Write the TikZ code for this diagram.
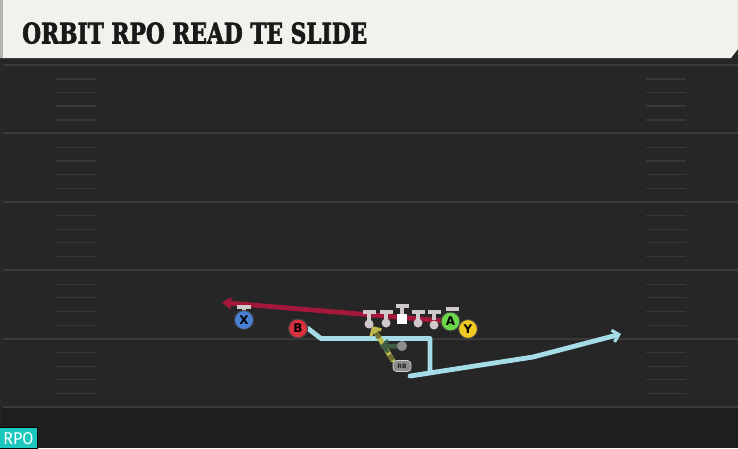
\documentclass[tikz,border=0pt]{standalone}
\usepackage{fontspec}
\newfontfamily\titlefont[FakeBold=2.5]{DejaVu Serif}
\newfontfamily\markfont{DejaVu Sans}
\newfontfamily\tagfont{Fira Sans}
\usetikzlibrary{arrows.meta, positioning, calc}
\usepackage{xcolor}

\definecolor{fieldgray}{HTML}{262626}
\definecolor{fieldlow}{HTML}{1E1E1E}
\definecolor{yardline}{HTML}{3A3A3A}
\definecolor{hashgray}{HTML}{383838}
\definecolor{bannercream}{HTML}{F3F1EB}
\definecolor{routecyan}{HTML}{A6DCE8}
\definecolor{readred}{HTML}{A3173A}
\definecolor{meshyellow}{HTML}{BDB84E}
\definecolor{meshdark}{HTML}{6F6E34}
\definecolor{qbgreen}{HTML}{3E5B43}
\definecolor{xblue}{HTML}{4A7FD6}
\definecolor{bred}{HTML}{D9323E}
\definecolor{agreen}{HTML}{6CD64A}
\definecolor{yyellow}{HTML}{F0C823}
\definecolor{olgray}{HTML}{D0C8CB}
\definecolor{rpoteal}{HTML}{1CC8BE}

\pgfdeclarelayer{field}
\pgfdeclarelayer{routes}
\pgfsetlayers{field,routes,main}

\begin{document}
\begin{tikzpicture}[x=1pt, y=-1pt,
    player/.style={circle, draw=black!75, line width=1pt, minimum size=19pt, inner sep=0pt,
        font=\markfont\bfseries\fontsize{12}{12}\selectfont},
    lineman/.style={circle, fill=olgray, minimum size=9pt, inner sep=0pt},
    blockbar/.style={fill=olgray},
    route/.style={line width=4.8pt, line cap=round, line join=round},
    chevron/.style={-{Straight Barb[length=6pt, width=12pt, line width=3.2pt]}}]

    \useasboundingbox (0,0) rectangle (738,448);

    \begin{pgfonlayer}{field}
    % field and banner
    \fill[fieldgray] (0,0) rectangle (738,448);
    \fill[fieldlow] (0,407) rectangle (738,448);
    \fill[black!85] (0,57) rectangle (738,63);
    \draw[line width=1pt, black!75!white!20!fieldgray] (1.5,63) -- (1.5,448);
    \foreach \yl in {65,133.4,201.8,270.2,338.6,407} {
        \draw[line width=2pt, yardline] (3,\yl) -- (738,\yl);
    }
    \foreach \yl in {65,133.4,201.8,270.2,338.6} {
        \foreach \dy in {14,27.5,41,55} {
            \draw[line width=1.2pt, hashgray] (56,\yl+\dy) -- (96,\yl+\dy);
            \draw[line width=1.2pt, hashgray] (646,\yl+\dy) -- (686,\yl+\dy);
        }
    }
    \fill[bannercream] (0,0) -- (738,0) -- (738,49) -- (731,58) -- (0,58) -- cycle;
    \fill[black!30] (0,0) rectangle (3,58);
    \end{pgfonlayer}

    \node[anchor=south west, inner sep=0pt, text=black!90] (title) at (22,44)
        {\resizebox{345pt}{21pt}{\titlefont\bfseries ORBIT RPO READ TE SLIDE}};

    % offensive line
    \foreach \xo/\yo in {369/324, 386/323, 418/323, 434/325} {
        \fill[blockbar] (\xo-6.5,309.5) rectangle (\xo+6.5,314);
        \fill[blockbar] (\xo-2,314) rectangle (\xo+2,320);
        \node[lineman] at (\xo,\yo) {};
    }
    \fill[blockbar] (395.5,303.5) rectangle (408.5,308);
    \fill[blockbar] (400,308) rectangle (404,314);
    \node[fill=white, minimum size=10pt, inner sep=0pt] (center) at (402,318.5) {};

    % skill players
    \fill[blockbar] (237,304.5) rectangle (251,308.5);
    \fill[blockbar] (242,308.5) rectangle (246,312);
    \node[player, fill=xblue] (X) at (244,320) {X};
    \node[player, fill=bred] (B) at (298,328.5) {B};
    \fill[blockbar] (445.5,307) rectangle (458.5,311);
    \node[player, fill=agreen] (A) at (450.5,321.5) {A};
    \node[player, fill=yyellow] (Y) at (468,329) {Y};
    \node[circle, fill=black!45, minimum size=10pt, inner sep=0pt] (QB) at (402,346) {};
    \node[rounded corners=3.5pt, fill=black!45, draw=black!20, line width=0.7pt,
        minimum width=18pt, minimum height=11pt, inner sep=0pt,
        font=\markfont\bfseries\fontsize{6}{6}\selectfont, text=black!85] (RB) at (402,366) {RB};

    \coordinate (readtip) at (222,302.5);
    \coordinate (meshtip) at (372,326);
    \coordinate (qbtip) at (380,346.5);
    \coordinate (orbitend) at (621,334);

    \begin{pgfonlayer}{routes}
    \draw[route, readred, -{Triangle[length=9pt, width=12pt]}] (A.center) -- (readtip);
    \draw[route, routecyan, chevron] (B.east) -- (321,338.5) -- (430,338.5) -- (430,373)
        -- (410,376) -- (533,357) -- (orbitend);
    \draw[route, meshyellow, chevron] (RB.north west) -- (meshtip);
    \draw[line width=4.8pt, meshdark, dash pattern=on 6pt off 7pt] (RB.north west) -- ($(RB.north west)!0.8!(meshtip)$);
    \draw[route, qbgreen, chevron] (QB.center) -- (qbtip);
    \end{pgfonlayer}

    % tag
    \node[anchor=south west, fill=rpoteal, draw=black, line width=0.8pt, minimum width=38pt,
        minimum height=21pt, inner sep=0pt, text=white] (tag) at (-1,449)
        {\resizebox{30pt}{12pt}{\tagfont RPO}};
\end{tikzpicture}
\end{document}
